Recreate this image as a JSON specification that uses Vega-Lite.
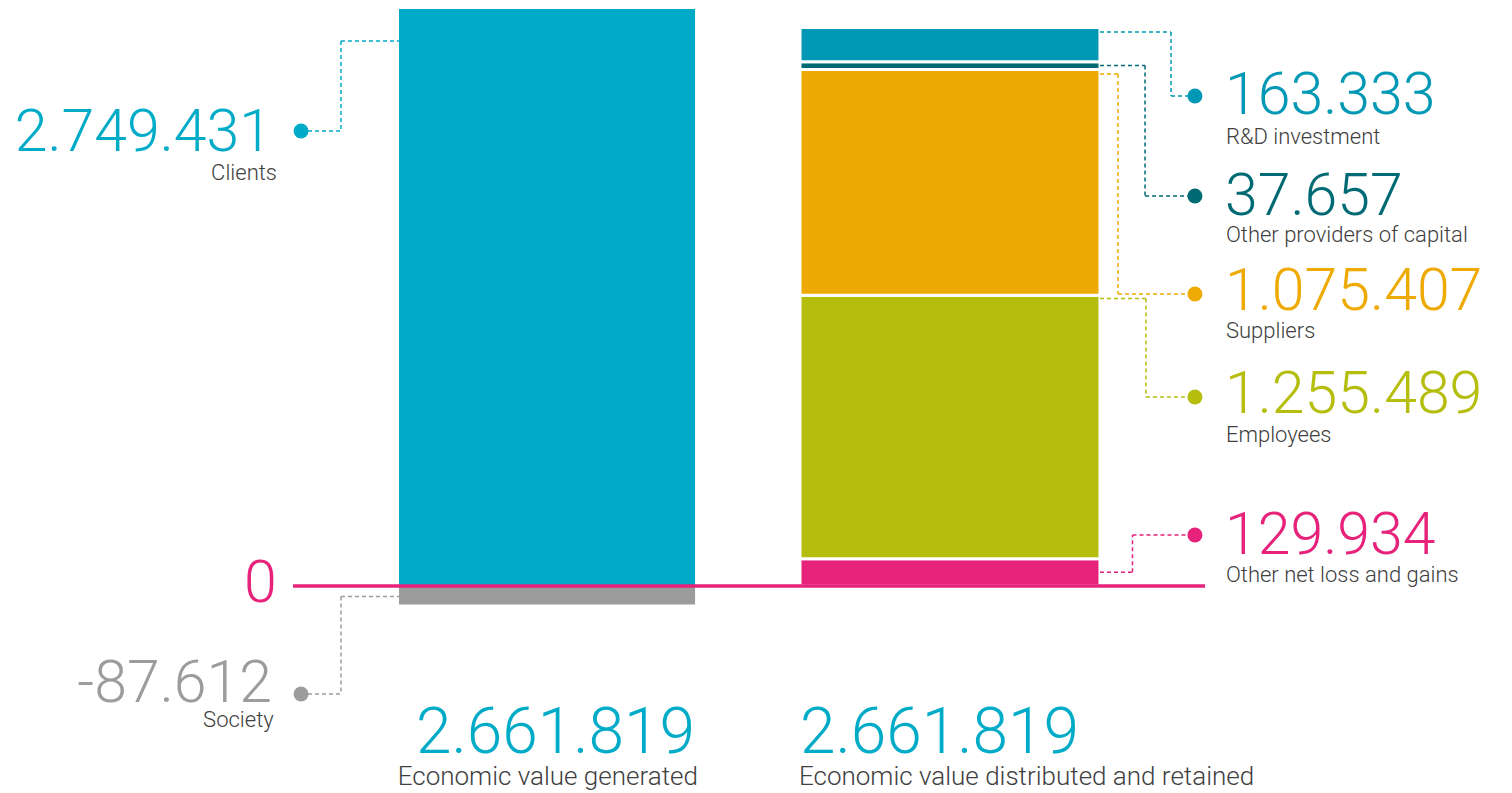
{
"$schema":"https://vega.github.io/schema/vega-lite/v6.json",
"width":1512,"height":793,
"autosize":{"type":"fit","contains":"padding"},
"padding":0,
"background":"white",
"config":{"view":{"stroke":null},"locale":{"number":{"decimal":",","thousands":".","grouping":[3],"currency":["","€"],"minus":"-"}},"text":{"font":"Roboto","fontWeight":300}},
"datasets":{
"flows":[
{"side":"generated","item":"Clients","value":2749431,"seq":1},
{"side":"generated","item":"Society","value":-87612,"seq":2},
{"side":"distributed","item":"Other net loss and gains","value":129934,"seq":1},
{"side":"distributed","item":"Employees","value":1255489,"seq":2},
{"side":"distributed","item":"Suppliers","value":1075407,"seq":3},
{"side":"distributed","item":"Other providers of capital","value":37657,"seq":4},
{"side":"distributed","item":"R&D investment","value":163333,"seq":5}
],
"totals":[
{"side":"generated","label":"Economic value generated","total":2661819},
{"side":"distributed","label":"Economic value distributed and retained","total":2661819}
],
"zero":[{"level":0}]
},
"data":{"name":"flows"},
"layer":[
{"transform":[{"filter":"datum.side==='generated'"}],"mark":{"type":"bar"},
"encoding":{"x":{"datum":26.39,"type":"quantitative","scale":{"domain":[0,100]},"axis":null},"x2":{"datum":45.97},
"y":{"field":"value","type":"quantitative","scale":{"domain":[-986367,2792302],"nice":false,"zero":false},"axis":null},"y2":{"datum":0},
"color":{"field":"item","type":"nominal","scale":{"domain":["Clients","Society","R&D investment","Other providers of capital","Suppliers","Employees","Other net loss and gains"],"range":["#00abc8","#9c9c9c","#0098b4","#006a74","#eeaa03","#b5bd0d","#e6227a"]},"legend":null}}},
{"transform":[{"filter":"datum.side==='distributed'"},{"stack":"value","groupby":[],"sort":[{"field":"seq","order":"ascending"}],"as":["v0","v1"]}],
"mark":{"type":"bar","stroke":"white","strokeWidth":3},
"encoding":{"x":{"datum":52.91,"type":"quantitative","scale":{"domain":[0,100]},"axis":null},"x2":{"datum":72.75},
"y":{"field":"v0","type":"quantitative","scale":{"domain":[-986367,2792302],"nice":false,"zero":false},"axis":null},"y2":{"field":"v1"},
"color":{"field":"item","type":"nominal","legend":null}}},
{"data":{"name":"zero"},"mark":{"type":"rule","color":"#e6227a","strokeWidth":3.5},
"encoding":{"x":{"datum":19.38,"type":"quantitative","scale":{"domain":[0,100]},"axis":null},"x2":{"datum":79.7},
"y":{"field":"level","type":"quantitative","scale":{"domain":[-986367,2792302],"nice":false,"zero":false},"axis":null}}},
{"data":{"name":"zero"},"mark":{"type":"text","align":"right","baseline":"alphabetic","dy":16,"fontSize":59,"color":"#e6227a"},
"encoding":{"x":{"datum":18.3,"type":"quantitative","scale":{"domain":[0,100]},"axis":null},
"y":{"field":"level","type":"quantitative","scale":{"domain":[-986367,2792302],"nice":false,"zero":false},"axis":null},
"text":{"field":"level","type":"quantitative"}}},

{"transform":[{"filter":"datum.item==='Clients'"}],"encoding":{"color":{"field":"item","type":"nominal","legend":null}},"layer":[
{"mark":{"type":"rule","strokeDash":[4,3],"strokeWidth":1.5},"encoding":{"x":{"datum":22.55,"type":"quantitative","scale":{"domain":[0,100]},"axis":null},"x2":{"datum":26.39},"y":{"datum":2596952,"type":"quantitative","scale":{"domain":[-986367,2792302],"nice":false,"zero":false},"axis":null}}},
{"mark":{"type":"rule","strokeDash":[4,3],"strokeWidth":1.5},"encoding":{"x":{"datum":22.55,"type":"quantitative","scale":{"domain":[0,100]},"axis":null},"y":{"datum":2596952,"type":"quantitative","scale":{"domain":[-986367,2792302],"nice":false,"zero":false},"axis":null},"y2":{"datum":2168098}}},
{"mark":{"type":"rule","strokeDash":[4,3],"strokeWidth":1.5},"encoding":{"x":{"datum":19.91,"type":"quantitative","scale":{"domain":[0,100]},"axis":null},"x2":{"datum":22.55},"y":{"datum":2168098,"type":"quantitative","scale":{"domain":[-986367,2792302],"nice":false,"zero":false},"axis":null}}},
{"mark":{"type":"point","filled":true,"size":225,"opacity":1},"encoding":{"x":{"datum":19.91,"type":"quantitative","scale":{"domain":[0,100]},"axis":null},"y":{"datum":2168098,"type":"quantitative","scale":{"domain":[-986367,2792302],"nice":false,"zero":false},"axis":null}}},
{"mark":{"type":"text","align":"right","baseline":"alphabetic","fontSize":59,"dy":20},"encoding":{"x":{"datum":17.99,"type":"quantitative","scale":{"domain":[0,100]},"axis":null},"y":{"datum":2168098,"type":"quantitative","scale":{"domain":[-986367,2792302],"nice":false,"zero":false},"axis":null},"text":{"field":"value","type":"quantitative","format":",d"}}},
{"mark":{"type":"text","align":"right","baseline":"alphabetic","fontSize":22,"dy":49},"encoding":{"x":{"datum":18.32,"type":"quantitative","scale":{"domain":[0,100]},"axis":null},"y":{"datum":2168098,"type":"quantitative","scale":{"domain":[-986367,2792302],"nice":false,"zero":false},"axis":null},"text":{"field":"item","type":"nominal"},"color":{"value":"#404040"}}}
]},

{"transform":[{"filter":"datum.item==='Society'"}],"encoding":{"color":{"field":"item","type":"nominal","legend":null}},"layer":[
{"mark":{"type":"rule","strokeDash":[4,3],"strokeWidth":1.5},"encoding":{"x":{"datum":22.55,"type":"quantitative","scale":{"domain":[0,100]},"axis":null},"x2":{"datum":26.39},"y":{"datum":-50000,"type":"quantitative","scale":{"domain":[-986367,2792302],"nice":false,"zero":false},"axis":null}}},
{"mark":{"type":"rule","strokeDash":[4,3],"strokeWidth":1.5},"encoding":{"x":{"datum":22.55,"type":"quantitative","scale":{"domain":[0,100]},"axis":null},"y":{"datum":-50000,"type":"quantitative","scale":{"domain":[-986367,2792302],"nice":false,"zero":false},"axis":null},"y2":{"datum":-514625}}},
{"mark":{"type":"rule","strokeDash":[4,3],"strokeWidth":1.5},"encoding":{"x":{"datum":19.91,"type":"quantitative","scale":{"domain":[0,100]},"axis":null},"x2":{"datum":22.55},"y":{"datum":-514625,"type":"quantitative","scale":{"domain":[-986367,2792302],"nice":false,"zero":false},"axis":null}}},
{"mark":{"type":"point","filled":true,"size":225,"opacity":1},"encoding":{"x":{"datum":19.91,"type":"quantitative","scale":{"domain":[0,100]},"axis":null},"y":{"datum":-514625,"type":"quantitative","scale":{"domain":[-986367,2792302],"nice":false,"zero":false},"axis":null}}},
{"mark":{"type":"text","align":"right","baseline":"alphabetic","fontSize":59,"dy":8},"encoding":{"x":{"datum":17.99,"type":"quantitative","scale":{"domain":[0,100]},"axis":null},"y":{"datum":-514625,"type":"quantitative","scale":{"domain":[-986367,2792302],"nice":false,"zero":false},"axis":null},"text":{"field":"value","type":"quantitative","format":",d"}}},
{"mark":{"type":"text","align":"right","baseline":"alphabetic","fontSize":22,"dy":33},"encoding":{"x":{"datum":18.1,"type":"quantitative","scale":{"domain":[0,100]},"axis":null},"y":{"datum":-514625,"type":"quantitative","scale":{"domain":[-986367,2792302],"nice":false,"zero":false},"axis":null},"text":{"field":"item","type":"nominal"},"color":{"value":"#404040"}}}
]},

{"transform":[{"filter":"datum.item==='R&D investment'"}],"encoding":{"color":{"field":"item","type":"nominal","legend":null}},"layer":[
{"mark":{"type":"rule","strokeDash":[4,3],"strokeWidth":1.5},"encoding":{"x":{"datum":72.75,"type":"quantitative","scale":{"domain":[0,100]},"axis":null},"x2":{"datum":77.45},"y":{"datum":2640000,"type":"quantitative","scale":{"domain":[-986367,2792302],"nice":false,"zero":false},"axis":null}}},
{"mark":{"type":"rule","strokeDash":[4,3],"strokeWidth":1.5},"encoding":{"x":{"datum":77.45,"type":"quantitative","scale":{"domain":[0,100]},"axis":null},"y":{"datum":2640000,"type":"quantitative","scale":{"domain":[-986367,2792302],"nice":false,"zero":false},"axis":null},"y2":{"datum":2334875}}},
{"mark":{"type":"rule","strokeDash":[4,3],"strokeWidth":1.5},"encoding":{"x":{"datum":77.45,"type":"quantitative","scale":{"domain":[0,100]},"axis":null},"x2":{"datum":79.03},"y":{"datum":2334875,"type":"quantitative","scale":{"domain":[-986367,2792302],"nice":false,"zero":false},"axis":null}}},
{"mark":{"type":"point","filled":true,"size":225,"opacity":1},"encoding":{"x":{"datum":79.03,"type":"quantitative","scale":{"domain":[0,100]},"axis":null},"y":{"datum":2334875,"type":"quantitative","scale":{"domain":[-986367,2792302],"nice":false,"zero":false},"axis":null}}},
{"mark":{"type":"text","align":"left","baseline":"alphabetic","fontSize":59,"dy":18},"encoding":{"x":{"datum":81.02,"type":"quantitative","scale":{"domain":[0,100]},"axis":null},"y":{"datum":2334875,"type":"quantitative","scale":{"domain":[-986367,2792302],"nice":false,"zero":false},"axis":null},"text":{"field":"value","type":"quantitative","format":",d"}}},
{"mark":{"type":"text","align":"left","baseline":"alphabetic","fontSize":22,"dy":48},"encoding":{"x":{"datum":81.08,"type":"quantitative","scale":{"domain":[0,100]},"axis":null},"y":{"datum":2334875,"type":"quantitative","scale":{"domain":[-986367,2792302],"nice":false,"zero":false},"axis":null},"text":{"field":"item","type":"nominal"},"color":{"value":"#404040"}}}
]},

{"transform":[{"filter":"datum.item==='Other providers of capital'"}],"encoding":{"color":{"field":"item","type":"nominal","legend":null}},"layer":[
{"mark":{"type":"rule","strokeDash":[4,3],"strokeWidth":1.5},"encoding":{"x":{"datum":72.75,"type":"quantitative","scale":{"domain":[0,100]},"axis":null},"x2":{"datum":75.73},"y":{"datum":2479658,"type":"quantitative","scale":{"domain":[-986367,2792302],"nice":false,"zero":false},"axis":null}}},
{"mark":{"type":"rule","strokeDash":[4,3],"strokeWidth":1.5},"encoding":{"x":{"datum":75.73,"type":"quantitative","scale":{"domain":[0,100]},"axis":null},"y":{"datum":2479658,"type":"quantitative","scale":{"domain":[-986367,2792302],"nice":false,"zero":false},"axis":null},"y2":{"datum":1858370}}},
{"mark":{"type":"rule","strokeDash":[4,3],"strokeWidth":1.5},"encoding":{"x":{"datum":75.73,"type":"quantitative","scale":{"domain":[0,100]},"axis":null},"x2":{"datum":79.03},"y":{"datum":1858370,"type":"quantitative","scale":{"domain":[-986367,2792302],"nice":false,"zero":false},"axis":null}}},
{"mark":{"type":"point","filled":true,"size":225,"opacity":1},"encoding":{"x":{"datum":79.03,"type":"quantitative","scale":{"domain":[0,100]},"axis":null},"y":{"datum":1858370,"type":"quantitative","scale":{"domain":[-986367,2792302],"nice":false,"zero":false},"axis":null}}},
{"mark":{"type":"text","align":"left","baseline":"alphabetic","fontSize":59,"dy":19},"encoding":{"x":{"datum":81.02,"type":"quantitative","scale":{"domain":[0,100]},"axis":null},"y":{"datum":1858370,"type":"quantitative","scale":{"domain":[-986367,2792302],"nice":false,"zero":false},"axis":null},"text":{"field":"value","type":"quantitative","format":",d"}}},
{"mark":{"type":"text","align":"left","baseline":"alphabetic","fontSize":22,"dy":46},"encoding":{"x":{"datum":81.08,"type":"quantitative","scale":{"domain":[0,100]},"axis":null},"y":{"datum":1858370,"type":"quantitative","scale":{"domain":[-986367,2792302],"nice":false,"zero":false},"axis":null},"text":{"field":"item","type":"nominal"},"color":{"value":"#404040"}}}
]},

{"transform":[{"filter":"datum.item==='Suppliers'"}],"encoding":{"color":{"field":"item","type":"nominal","legend":null}},"layer":[
{"mark":{"type":"rule","strokeDash":[4,3],"strokeWidth":1.5},"encoding":{"x":{"datum":72.75,"type":"quantitative","scale":{"domain":[0,100]},"axis":null},"x2":{"datum":73.94},"y":{"datum":2440000,"type":"quantitative","scale":{"domain":[-986367,2792302],"nice":false,"zero":false},"axis":null}}},
{"mark":{"type":"rule","strokeDash":[4,3],"strokeWidth":1.5},"encoding":{"x":{"datum":73.94,"type":"quantitative","scale":{"domain":[0,100]},"axis":null},"y":{"datum":2440000,"type":"quantitative","scale":{"domain":[-986367,2792302],"nice":false,"zero":false},"axis":null},"y2":{"datum":1391395}}},
{"mark":{"type":"rule","strokeDash":[4,3],"strokeWidth":1.5},"encoding":{"x":{"datum":73.94,"type":"quantitative","scale":{"domain":[0,100]},"axis":null},"x2":{"datum":79.03},"y":{"datum":1391395,"type":"quantitative","scale":{"domain":[-986367,2792302],"nice":false,"zero":false},"axis":null}}},
{"mark":{"type":"point","filled":true,"size":225,"opacity":1},"encoding":{"x":{"datum":79.03,"type":"quantitative","scale":{"domain":[0,100]},"axis":null},"y":{"datum":1391395,"type":"quantitative","scale":{"domain":[-986367,2792302],"nice":false,"zero":false},"axis":null}}},
{"mark":{"type":"text","align":"left","baseline":"alphabetic","fontSize":59,"dy":16},"encoding":{"x":{"datum":81.02,"type":"quantitative","scale":{"domain":[0,100]},"axis":null},"y":{"datum":1391395,"type":"quantitative","scale":{"domain":[-986367,2792302],"nice":false,"zero":false},"axis":null},"text":{"field":"value","type":"quantitative","format":",d"}}},
{"mark":{"type":"text","align":"left","baseline":"alphabetic","fontSize":22,"dy":44},"encoding":{"x":{"datum":81.08,"type":"quantitative","scale":{"domain":[0,100]},"axis":null},"y":{"datum":1391395,"type":"quantitative","scale":{"domain":[-986367,2792302],"nice":false,"zero":false},"axis":null},"text":{"field":"item","type":"nominal"},"color":{"value":"#404040"}}}
]},

{"transform":[{"filter":"datum.item==='Employees'"}],"encoding":{"color":{"field":"item","type":"nominal","legend":null}},"layer":[
{"mark":{"type":"rule","strokeDash":[4,3],"strokeWidth":1.5},"encoding":{"x":{"datum":72.75,"type":"quantitative","scale":{"domain":[0,100]},"axis":null},"x2":{"datum":75.79},"y":{"datum":1370000,"type":"quantitative","scale":{"domain":[-986367,2792302],"nice":false,"zero":false},"axis":null}}},
{"mark":{"type":"rule","strokeDash":[4,3],"strokeWidth":1.5},"encoding":{"x":{"datum":75.79,"type":"quantitative","scale":{"domain":[0,100]},"axis":null},"y":{"datum":1370000,"type":"quantitative","scale":{"domain":[-986367,2792302],"nice":false,"zero":false},"axis":null},"y2":{"datum":900594}}},
{"mark":{"type":"rule","strokeDash":[4,3],"strokeWidth":1.5},"encoding":{"x":{"datum":75.79,"type":"quantitative","scale":{"domain":[0,100]},"axis":null},"x2":{"datum":79.03},"y":{"datum":900594,"type":"quantitative","scale":{"domain":[-986367,2792302],"nice":false,"zero":false},"axis":null}}},
{"mark":{"type":"point","filled":true,"size":225,"opacity":1},"encoding":{"x":{"datum":79.03,"type":"quantitative","scale":{"domain":[0,100]},"axis":null},"y":{"datum":900594,"type":"quantitative","scale":{"domain":[-986367,2792302],"nice":false,"zero":false},"axis":null}}},
{"mark":{"type":"text","align":"left","baseline":"alphabetic","fontSize":59,"dy":16},"encoding":{"x":{"datum":81.02,"type":"quantitative","scale":{"domain":[0,100]},"axis":null},"y":{"datum":900594,"type":"quantitative","scale":{"domain":[-986367,2792302],"nice":false,"zero":false},"axis":null},"text":{"field":"value","type":"quantitative","format":",d"}}},
{"mark":{"type":"text","align":"left","baseline":"alphabetic","fontSize":22,"dy":45},"encoding":{"x":{"datum":81.08,"type":"quantitative","scale":{"domain":[0,100]},"axis":null},"y":{"datum":900594,"type":"quantitative","scale":{"domain":[-986367,2792302],"nice":false,"zero":false},"axis":null},"text":{"field":"item","type":"nominal"},"color":{"value":"#404040"}}}
]},

{"transform":[{"filter":"datum.item==='Other net loss and gains'"}],"encoding":{"color":{"field":"item","type":"nominal","legend":null}},"layer":[
{"mark":{"type":"rule","strokeDash":[4,3],"strokeWidth":1.5},"encoding":{"x":{"datum":72.75,"type":"quantitative","scale":{"domain":[0,100]},"axis":null},"x2":{"datum":74.9},"y":{"datum":65000,"type":"quantitative","scale":{"domain":[-986367,2792302],"nice":false,"zero":false},"axis":null}}},
{"mark":{"type":"rule","strokeDash":[4,3],"strokeWidth":1.5},"encoding":{"x":{"datum":74.9,"type":"quantitative","scale":{"domain":[0,100]},"axis":null},"y":{"datum":65000,"type":"quantitative","scale":{"domain":[-986367,2792302],"nice":false,"zero":false},"axis":null},"y2":{"datum":243018}}},
{"mark":{"type":"rule","strokeDash":[4,3],"strokeWidth":1.5},"encoding":{"x":{"datum":74.9,"type":"quantitative","scale":{"domain":[0,100]},"axis":null},"x2":{"datum":79.03},"y":{"datum":243018,"type":"quantitative","scale":{"domain":[-986367,2792302],"nice":false,"zero":false},"axis":null}}},
{"mark":{"type":"point","filled":true,"size":225,"opacity":1},"encoding":{"x":{"datum":79.03,"type":"quantitative","scale":{"domain":[0,100]},"axis":null},"y":{"datum":243018,"type":"quantitative","scale":{"domain":[-986367,2792302],"nice":false,"zero":false},"axis":null}}},
{"mark":{"type":"text","align":"left","baseline":"alphabetic","fontSize":59,"dy":19},"encoding":{"x":{"datum":81.02,"type":"quantitative","scale":{"domain":[0,100]},"axis":null},"y":{"datum":243018,"type":"quantitative","scale":{"domain":[-986367,2792302],"nice":false,"zero":false},"axis":null},"text":{"field":"value","type":"quantitative","format":",d"}}},
{"mark":{"type":"text","align":"left","baseline":"alphabetic","fontSize":22,"dy":47},"encoding":{"x":{"datum":81.08,"type":"quantitative","scale":{"domain":[0,100]},"axis":null},"y":{"datum":243018,"type":"quantitative","scale":{"domain":[-986367,2792302],"nice":false,"zero":false},"axis":null},"text":{"field":"item","type":"nominal"},"color":{"value":"#404040"}}}
]},

{"data":{"name":"totals"},"transform":[{"filter":"datum.side==='generated'"}],"layer":[
{"mark":{"type":"text","align":"right","baseline":"alphabetic","fontSize":64,"color":"#00abc8"},"encoding":{"x":{"datum":45.97,"type":"quantitative","scale":{"domain":[0,100]},"axis":null},"y":{"datum":-795763,"type":"quantitative","scale":{"domain":[-986367,2792302],"nice":false,"zero":false},"axis":null},"text":{"field":"total","type":"quantitative","format":",d"}}},
{"mark":{"type":"text","align":"right","baseline":"alphabetic","fontSize":26,"color":"#404040"},"encoding":{"x":{"datum":46.16,"type":"quantitative","scale":{"domain":[0,100]},"axis":null},"y":{"datum":-948245,"type":"quantitative","scale":{"domain":[-986367,2792302],"nice":false,"zero":false},"axis":null},"text":{"field":"label","type":"nominal"}}}
]},
{"data":{"name":"totals"},"transform":[{"filter":"datum.side==='distributed'"}],"layer":[
{"mark":{"type":"text","align":"left","baseline":"alphabetic","fontSize":64,"color":"#00abc8"},"encoding":{"x":{"datum":52.91,"type":"quantitative","scale":{"domain":[0,100]},"axis":null},"y":{"datum":-795763,"type":"quantitative","scale":{"domain":[-986367,2792302],"nice":false,"zero":false},"axis":null},"text":{"field":"total","type":"quantitative","format":",d"}}},
{"mark":{"type":"text","align":"left","baseline":"alphabetic","fontSize":26,"color":"#404040"},"encoding":{"x":{"datum":52.84,"type":"quantitative","scale":{"domain":[0,100]},"axis":null},"y":{"datum":-948245,"type":"quantitative","scale":{"domain":[-986367,2792302],"nice":false,"zero":false},"axis":null},"text":{"field":"label","type":"nominal"}}}
]}
]
}
